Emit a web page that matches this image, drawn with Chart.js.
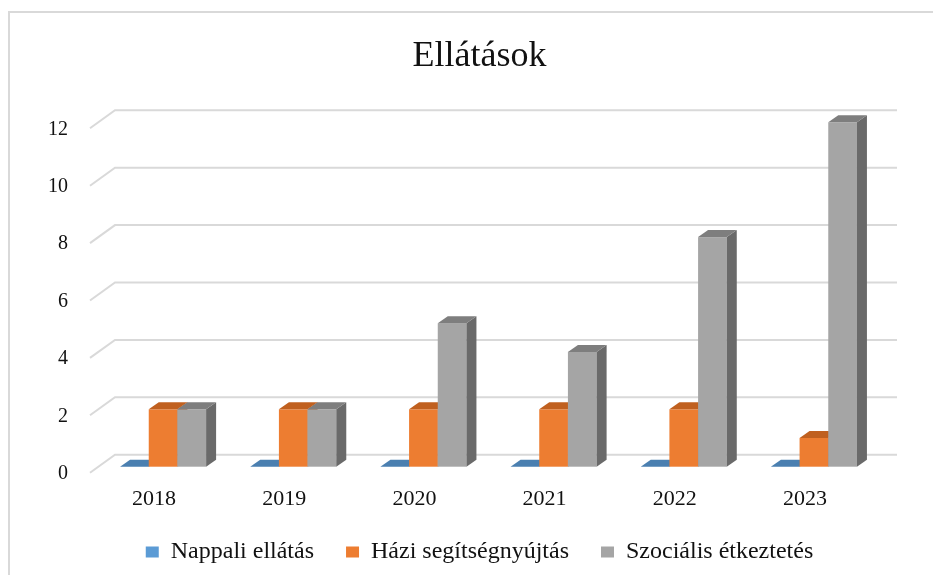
<!DOCTYPE html>
<html lang="hu">
<head>
  <meta charset="UTF-8">
  <title>Ellátások</title>
  <script src="https://cdn.jsdelivr.net/npm/chart.js"></script>
  <style>
      body { margin: 0; background: #ffffff; }
      #chart-container { width: 933px; height: 575px; }
  </style>
</head>
<body>
  <div id="chart-container">
      <canvas id="ellatasChart"></canvas>
  </div>

  <script>
      var years = ['2018', '2019', '2020', '2021', '2022', '2023'];
      var nappali = [0, 0, 0, 0, 0, 0];
      var hazi = [2, 2, 2, 2, 2, 1];
      var szocialis = [2, 2, 5, 4, 8, 12];
      var yTicks = [0, 2, 4, 6, 8, 10, 12];

      // front / top / side colours of the fake 3D columns
      var faces = [
          { front: '#5B9BD5', top: '#4A7FB0', side: '#3F6E9A' },
          { front: '#ED7D31', top: '#C0601F', side: '#B0571C' },
          { front: '#A5A5A5', top: '#7E7E7E', side: '#6A6A6A' }
      ];

      var DX = 10, DY = -7;             // column depth
      var FRONT = { dx: -8, dy: 6 };    // front edge of the side wall
      var BACK = { dx: 17, dy: -12 };   // back wall

      function poly(ctx, pts, color) {
          ctx.beginPath();
          ctx.moveTo(pts[0][0], pts[0][1]);
          for (let i = 1; i < pts.length; i++) ctx.lineTo(pts[i][0], pts[i][1]);
          ctx.closePath();
          ctx.fillStyle = color;
          ctx.fill();
      }

      // chart border + 3D style gridlines (side wall and back wall)
      Chart.register({
          id: 'walls',
          beforeDraw: (chart) => {
              const ctx = chart.ctx;
              ctx.save();
              ctx.fillStyle = '#ffffff';
              ctx.fillRect(0, 0, chart.width, chart.height);
              ctx.strokeStyle = '#d9d9d9';
              ctx.lineWidth = 2;
              ctx.beginPath();
              ctx.moveTo(9, chart.height + 5);
              ctx.lineTo(9, 12);
              ctx.lineTo(chart.width + 5, 12);
              ctx.stroke();
              ctx.restore();
          },
          beforeDatasetsDraw: (chart) => {
              const { ctx, chartArea: { left, right }, scales: { y } } = chart;
              ctx.save();
              ctx.strokeStyle = '#d9d9d9';
              ctx.lineWidth = 2;
              yTicks.forEach(v => {
                  const py = y.getPixelForValue(v);
                  ctx.beginPath();
                  ctx.moveTo(left + FRONT.dx, py + FRONT.dy);
                  ctx.lineTo(left + BACK.dx, py + BACK.dy);
                  ctx.lineTo(right + BACK.dx + 1, py + BACK.dy);
                  ctx.stroke();
              });
              ctx.restore();
          }
      });

      // draw columns as boxes, category by category, left to right
      Chart.register({
          id: 'bars3d',
          beforeDatasetDraw: () => false,
          afterDatasetsDraw: (chart) => {
              const ctx = chart.ctx;
              const metas = chart.data.datasets.map((d, i) => chart.getDatasetMeta(i));
              ctx.save();
              for (let j = 0; j < years.length; j++) {
                  metas.forEach((meta, i) => {
                      const bar = meta.data[j];
                      const { x, y, base, width } = bar.getProps(['x', 'y', 'base', 'width'], true);
                      const l = x - width / 2, r = x + width / 2;
                      const c = faces[i];
                      if (base - y > 0.5) {
                          ctx.fillStyle = c.front;
                          ctx.fillRect(l, y, width, base - y);
                          poly(ctx, [[r, y], [r + DX, y + DY], [r + DX, base + DY], [r, base]], c.side);
                      }
                      poly(ctx, [[l, y], [r, y], [r + DX, y + DY], [l + DX, y + DY]], c.top);
                  });
              }
              ctx.restore();
          }
      });

      Chart.defaults.font.family = "'Liberation Serif', 'Times New Roman', serif";
      Chart.defaults.color = '#111111';

      var ctx = document.getElementById('ellatasChart').getContext('2d');
      var ellatasChart = new Chart(ctx, {
          type: 'bar',
          data: {
              labels: years,
              datasets: [
                  { label: 'Nappali ellátás', data: nappali, backgroundColor: faces[0].front },
                  { label: 'Házi segítségnyújtás', data: hazi, backgroundColor: faces[1].front },
                  { label: 'Szociális étkeztetés', data: szocialis, backgroundColor: faces[2].front }
              ]
          },
          options: {
              responsive: true,
              maintainAspectRatio: false,
              animation: false,
              layout: { padding: { left: 80, right: 54, top: 0, bottom: 1 } },
              datasets: {
                  bar: { categoryPercentage: 0.661, barPercentage: 1 }
              },
              scales: {
                  x: {
                      grid: { display: false, drawTicks: false },
                      border: { display: false },
                      ticks: { font: { size: 22 }, padding: 19, labelOffset: -9 },
                      afterFit: (scale) => { scale.height = 41.3; }
                  },
                  y: {
                      min: 0,
                      max: 12,
                      grid: { display: false, drawTicks: false },
                      border: { display: false },
                      // mirrored so the labels can sit left of the (narrow) axis box without clipping
                      ticks: { stepSize: 2, font: { size: 20 }, mirror: true, crossAlign: 'far', padding: -50, labelOffset: 7 },
                      afterFit: (scale) => { scale.width = 18; }
                  }
              },
              plugins: {
                  title: {
                      display: true,
                      text: 'Ellátások',
                      font: { size: 36, weight: 'normal' },
                      padding: { top: 35, bottom: 44.1 }
                  },
                  legend: {
                      position: 'bottom',
                      labels: { boxWidth: 13, boxHeight: 11, padding: 32, font: { size: 24 } }
                  },
                  tooltip: { enabled: false }
              }
          }
      });
  </script>
</body>
</html>
